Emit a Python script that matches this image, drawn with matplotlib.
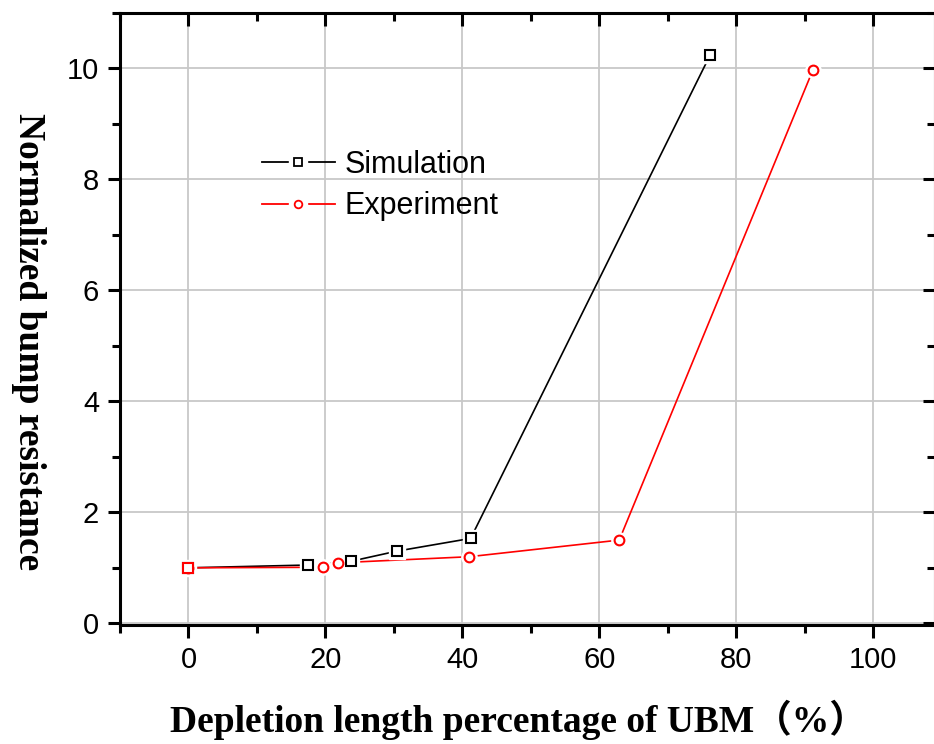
import matplotlib
matplotlib.use("Agg")
import matplotlib.pyplot as plt
from matplotlib.lines import Line2D
from matplotlib.legend_handler import HandlerTuple
from matplotlib.ticker import MultipleLocator

# Data
sim_x = [0, 17.4, 23.8, 30.4, 41.2, 76.2]
sim_y = [1.0, 1.05, 1.12, 1.30, 1.53, 10.25]
exp_x = [0, 19.6, 21.8, 41.0, 62.9, 91.2]
exp_y = [1.0, 1.01, 1.09, 1.20, 1.50, 9.98]
series_names = ["Simulation", "Experiment"]
x_label = "Depletion length percentage of UBM（%）"
y_label = "Normalized bump resistance"

fig = plt.figure(figsize=(9.34, 7.44), dpi=100)
ax = fig.add_axes([0.1285, 0.160, 0.8725, 0.8225])

ax.set_xlim(-10, 109)
ax.set_ylim(-0.03, 11)
ax.xaxis.set_major_locator(MultipleLocator(20))
ax.xaxis.set_minor_locator(MultipleLocator(10))
ax.yaxis.set_major_locator(MultipleLocator(2))
ax.yaxis.set_minor_locator(MultipleLocator(1))
ax.grid(True, which="major", color="#c8c8c8", linewidth=1.3)
ax.set_axisbelow(True)

for s in ax.spines.values():
    s.set_linewidth(2.2)

ax.tick_params(axis="both", which="both", direction="out", top=False, right=False,
               width=2.2, labelsize=21, pad=6)
ax.tick_params(which="major", length=9)
ax.tick_params(which="minor", length=6)
# mirrored inward ticks on top and right
ax.tick_params(axis="x", which="both", top=True, labeltop=False)
ax.tick_params(axis="y", which="both", right=True, labelright=False)
for t in ax.xaxis.get_major_ticks() + ax.xaxis.get_minor_ticks():
    t.tick2line.set_marker(3)  # TICKDOWN
for t in ax.yaxis.get_major_ticks() + ax.yaxis.get_minor_ticks():
    t.tick2line.set_marker(0)  # TICKLEFT
for lab in ax.get_xticklabels() + ax.get_yticklabels():
    lab.set_fontfamily("Liberation Sans")


def draw_series(x, y, color, marker, ms):
    ax.plot(x, y, color=color, linewidth=1.2, zorder=3)
    ax.plot(x, y, linestyle="none", marker=marker, markersize=ms + 4,
            markerfacecolor="white", markeredgecolor="white", zorder=4)
    ax.plot(x, y, linestyle="none", marker=marker, markersize=ms,
            markerfacecolor="white", markeredgecolor=color, markeredgewidth=1.5, zorder=5)


draw_series(sim_x, sim_y, "black", "s", 7)
draw_series(exp_x, exp_y, "red", "o", 7)
# first point rendered as a red square in the original
ax.plot(exp_x[:1], exp_y[:1], linestyle="none", marker="s", markersize=7,
        markerfacecolor="white", markeredgecolor="red", markeredgewidth=1.5, zorder=6)


def legend_handle(color, marker):
    ln = Line2D([], [], color=color, linewidth=1.3)
    bg = Line2D([], [], linestyle="none", marker=marker, markersize=13,
                markerfacecolor="white", markeredgecolor="white")
    mk = Line2D([], [], linestyle="none", marker=marker, markersize=5.5,
                markerfacecolor="white", markeredgecolor=color, markeredgewidth=1.3)
    return (ln, bg, mk)


leg = ax.legend([legend_handle("black", "s"), legend_handle("red", "o")], series_names,
                handler_map={tuple: HandlerTuple(ndivide=1, pad=0)},
                loc="center left", bbox_to_anchor=(0.174, 0.718), frameon=False,
                prop={"family": "Liberation Sans", "size": 22},
                handlelength=2.4, handletextpad=0.3, labelspacing=0.37,
                borderpad=0, borderaxespad=0)

ax.set_xlabel(x_label, fontsize=27, fontweight="bold",
              family=["Liberation Serif", "Noto Sans CJK SC"])
ax.xaxis.set_label_coords(0.489, -0.123)
ax.set_ylabel(y_label, fontsize=27, fontweight="bold", family="Liberation Serif",
              rotation=-90, va="center", ha="center")
ax.yaxis.set_label_coords(-0.112, 0.4625)

fig.savefig("out.png", dpi=100)
